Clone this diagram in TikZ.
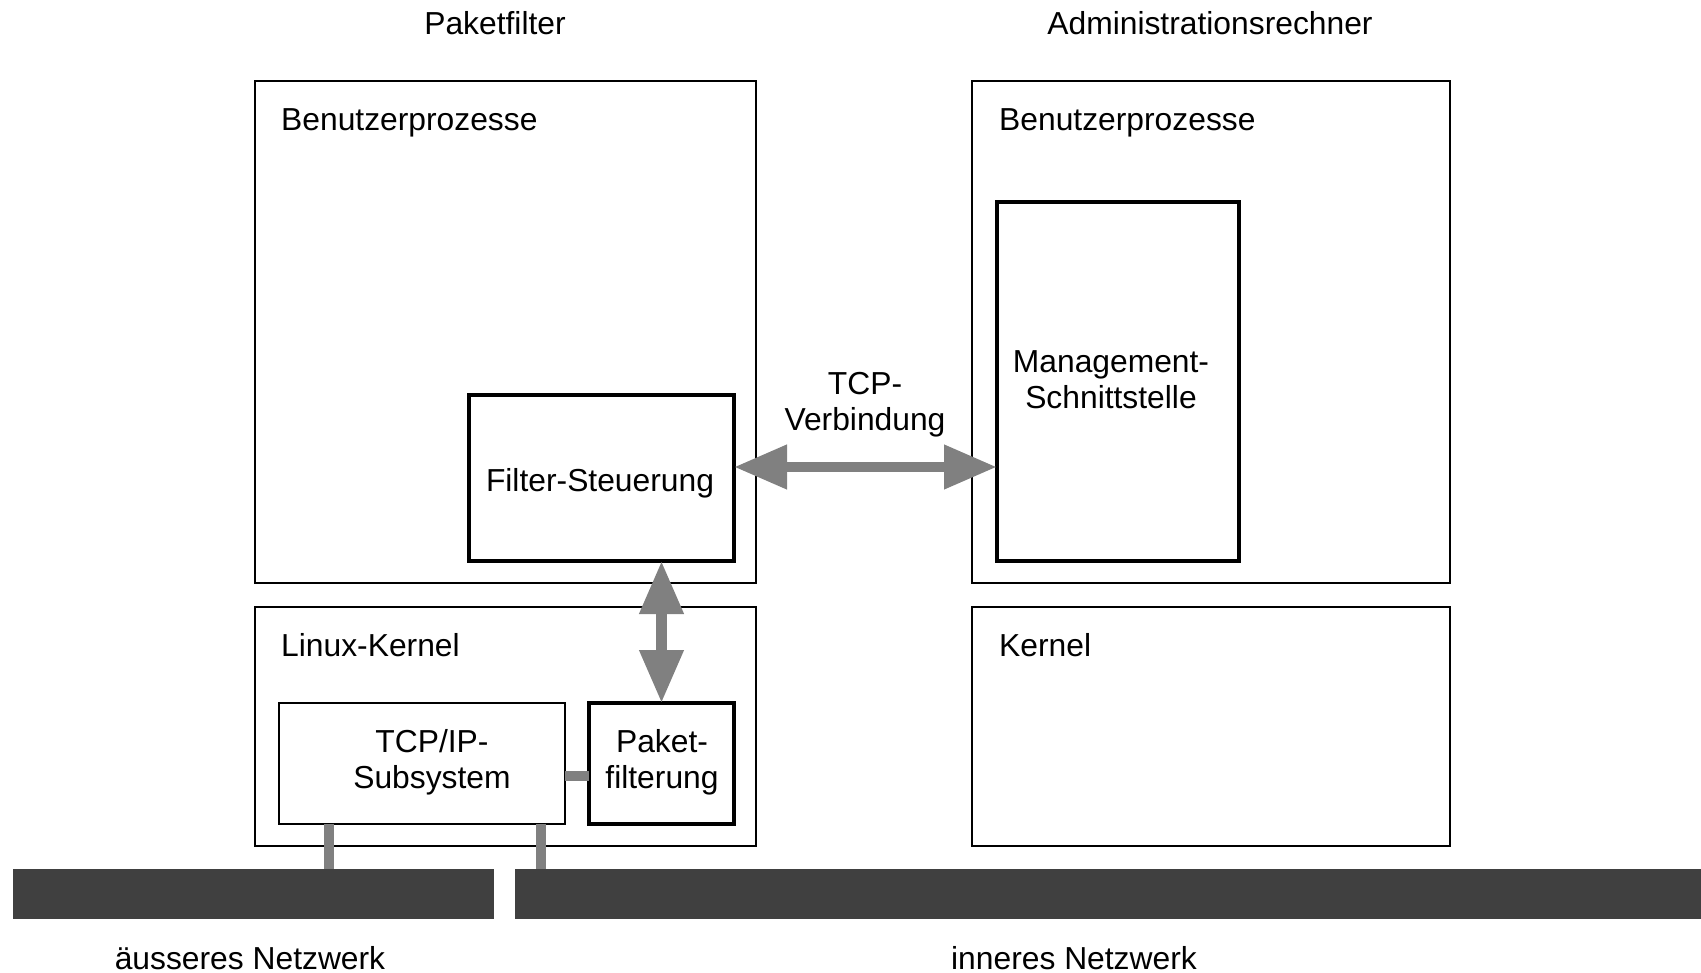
\documentclass[tikz,border=0pt]{standalone}
\usepackage{fontspec}
\setmainfont{Liberation Sans}
\usetikzlibrary{arrows.meta}
\definecolor{linkgray}{HTML}{808080}
\definecolor{netgray}{HTML}{404040}
\tikzset{
  frame/.style={draw, line width=2pt, rectangle, inner sep=0pt, outer sep=0pt},
  thickframe/.style={draw, line width=4.5pt, rectangle, inner sep=0pt, outer sep=0pt},
  lbl/.style={inner sep=0pt, font=\fontsize{31.8}{36}\selectfont, align=center},
  link/.style={draw=linkgray, line width=10pt},
  dblarrow/.style={draw=linkgray, line width=10.5pt,
    {Triangle[length=53pt,width=42pt]}-{Triangle[length=53pt,width=42pt]}},
  net/.style={fill=netgray, draw=none}
}
\begin{document}
\begin{tikzpicture}[x=1pt,y=-1pt]
\useasboundingbox (0,0) rectangle (1701,973);

% titles
\node[lbl, anchor=base] (t1) at (495,35) {Paketfilter};
\node[lbl, anchor=base] (t2) at (1210,35) {Administrationsrechner};

% host frames
\node[frame, minimum width=501pt, minimum height=502pt] (pu) at (505.5,332) {};
\node[frame, minimum width=501pt, minimum height=239pt] (pk) at (505.5,726.5) {};
\node[frame, minimum width=478pt, minimum height=502pt] (au) at (1211,332) {};
\node[frame, minimum width=478pt, minimum height=239pt] (ak) at (1211,726.5) {};

\node[lbl, anchor=base west] (l1) at (281,131) {Benutzerprozesse};
\node[lbl, anchor=base west] (l2) at (999,131) {Benutzerprozesse};
\node[lbl, anchor=base west] (l3) at (281,656) {Linux-Kernel};
\node[lbl, anchor=base west] (l4) at (999,656) {Kernel};

% components
\node[thickframe, minimum width=265pt, minimum height=166pt] (fs) at (601.5,478) {};
\node[lbl, anchor=base] (fst) at (600,492) {Filter-Steuerung};
\node[thickframe, minimum width=242pt, minimum height=359pt] (mg) at (1118,381.5) {};
\node[lbl] (mgt) at (1111,379.5) {Management-\\Schnittstelle};
\node[frame, minimum width=286pt, minimum height=121pt] (tcp) at (422,763) {};
\node[lbl] (tcpt) at (432,762.5) {TCP/IP-\\Subsystem};
\node[thickframe, minimum width=145pt, minimum height=121pt] (pf) at (661.5,763.5) {};
\node[lbl] (pft) at (662,762.5) {Paket-\\filterung};

% networks
\node[net, minimum width=481pt, minimum height=50pt, inner sep=0pt, outer sep=0pt] (ext) at (253.5,894) {};
\node[net, minimum width=1186pt, minimum height=50pt, inner sep=0pt, outer sep=0pt] (int) at (1108,894) {};
\node[lbl, anchor=base] (extl) at (250,969) {äusseres Netzwerk};
\node[lbl, anchor=base] (intl) at (1074,969) {inneres Netzwerk};

% connections
\coordinate (tcpy) at (0,467);
\coordinate (ca) at (329,0);
\coordinate (cb) at (541,0);
\draw[dblarrow] (fs.east |- tcpy) -- (mg.west |- tcpy);
\node[lbl] (tcpv) at (865,405) {TCP-\\Verbindung};
\draw[dblarrow] (pf.north |- fs.south) -- (pf.north);
\draw[link] (tcp.east |- 0,776) -- (pf.west |- 0,776);
\draw[link] (ca |- tcp.south) -- (ca |- ext.north);
\draw[link] (cb |- tcp.south) -- (cb |- int.north);
\end{tikzpicture}
\end{document}
